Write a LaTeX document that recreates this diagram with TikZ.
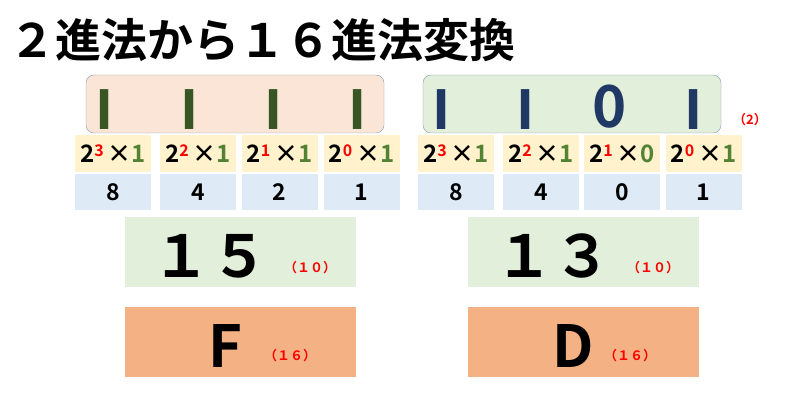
\documentclass[tikz,border=0pt]{standalone}
\usepackage{fontspec}
\setmainfont{Noto Sans CJK JP}[BoldFont={* Bold}]
\newfontfamily\barfont{Liberation Sans}
\definecolor{peach}{HTML}{FBE5D6}
\definecolor{palegreen}{HTML}{E2EFDA}
\definecolor{paleyellow}{HTML}{FFF2CC}
\definecolor{paleblue}{HTML}{DEEBF7}
\definecolor{orangebox}{HTML}{F4B183}
\definecolor{darkgreen}{HTML}{375623}
\definecolor{midgreen}{HTML}{548235}
\definecolor{navy}{HTML}{203864}
\definecolor{frame}{HTML}{8497B0}
\tikzset{
  bitbox/.style={draw=frame, rounded corners=8pt, minimum width=298pt, minimum height=58pt},
  powcell/.style={fill=paleyellow, minimum width=76pt, minimum height=37pt, inner sep=0pt, font=\bfseries\fontsize{24}{24}\selectfont},
  valcell/.style={fill=paleblue, minimum width=76pt, minimum height=36pt, inner sep=0pt, font=\bfseries\fontsize{23}{23}\selectfont},
  resbox/.style={minimum width=231pt, minimum height=70pt, inner sep=0pt},
  bigdigit/.style={font=\bfseries\fontsize{58}{58}\selectfont},
  bardigit/.style={font=\barfont\bfseries\fontsize{58}{58}\selectfont},
  basetag/.style={text=red, font=\bfseries\fontsize{13}{13}\selectfont}
}
\newcommand{\powterm}[2]{2\textcolor{red}{\raisebox{.45ex}{\fontsize{16}{16}\selectfont #1}}\,×\textcolor{midgreen}{#2}}
\begin{document}
\begin{tikzpicture}[x=1pt,y=-1pt]
  \useasboundingbox (0,0) rectangle (800,403);
  % title
  \node[anchor=west, font=\bfseries\fontsize{46}{46}\selectfont] (title) at (6,40) {２進法から１６進法変換};

  % binary boxes
  \node[bitbox, fill=peach] (binA) at (235,104) {};
  \node[bitbox, fill=palegreen] (binB) at (572,104) {};
  \foreach \x in {105,190,274,358}
    \node[text=darkgreen, bardigit] at (\x,110) {I};
  \foreach \x/\d in {442/I,526/I,694/I}
    \node[text=navy, bardigit] at (\x,110) {\d};
  \node[text=navy, bigdigit] (zero) at (610,107) {0};
  \node[basetag] (tagbin) at (750,120) {（2）};

  % place values
  \foreach \x/\p/\b/\v [count=\i] in {113/3/1/8, 198/2/1/4, 279.5/1/1/2, 361.5/0/1/1,
                                      456/3/1/8, 541/2/1/4, 622/1/0/0, 703.5/0/1/1} {
    \node[powcell] (pow\i) at (\x,153.5) {\powterm{\p}{\b}};
    \node[valcell] (val\i) at (\x,192) {\v};
  }

  % decimal and hex results
  \node[resbox, fill=palegreen] (decA) at (240.5,252) {};
  \node[resbox, fill=palegreen] (decB) at (583.5,252) {};
  \node[resbox, fill=orangebox] (hexA) at (240.5,342) {};
  \node[resbox, fill=orangebox] (hexB) at (583.5,342) {};
  \node[bigdigit] at (210,256) {１５};
  \node[basetag] at (310,268) {（１０）};
  \node[bigdigit] at (553,256) {１３};
  \node[basetag] at (653,268) {（１０）};
  \node[bigdigit] at (225,346) {F};
  \node[basetag] at (290,356) {（１６）};
  \node[bigdigit] at (573,346) {D};
  \node[basetag] at (630,356) {（１６）};
\end{tikzpicture}
\end{document}
